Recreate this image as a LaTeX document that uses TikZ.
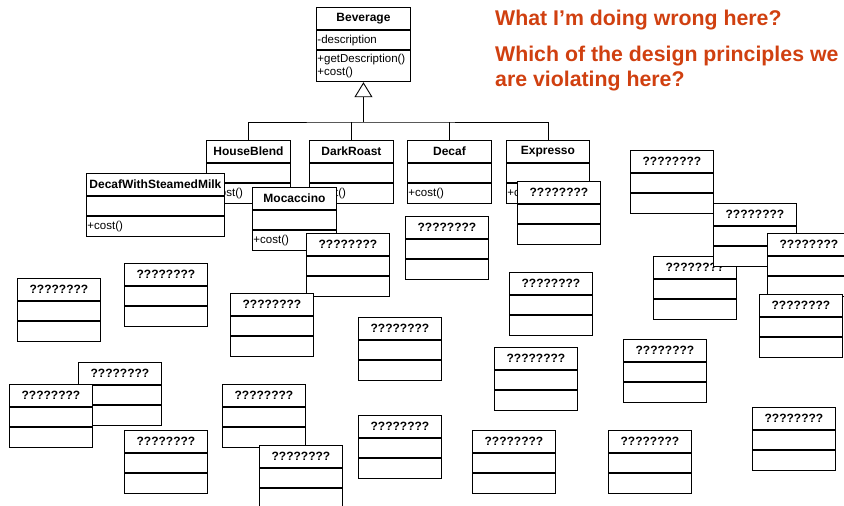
\documentclass[tikz,border=0pt]{standalone}
\usepackage{fontspec}
\setmainfont{Liberation Sans}
\usetikzlibrary{arrows.meta}
\definecolor{askred}{RGB}{208,64,16}

\tikzset{
  classtitle/.style={draw, fill=white, line width=0.9pt, inner sep=0pt, anchor=north west,
    minimum height=22pt, font=\fontsize{12}{14}\selectfont\bfseries},
  classpart/.style={draw, fill=white, line width=0.9pt, inner xsep=1pt, inner ysep=0pt,
    anchor=north west, minimum height=19.5pt, align=left, font=\fontsize{11.5}{13}\selectfont},
  question/.style={inner sep=0pt, anchor=base west, align=left, text=askred,
    font=\fontsize{21.3}{24.5}\selectfont\bfseries},
}

% #1 ops height, #2 name, #3 top left corner, #4 width, #5 title, #6 attributes, #7 operations
\newcommand{\umlclass}[7][19.5pt]{%
  \pgfmathsetmacro{\partwidth}{#4-2}%
  \node[classtitle, minimum width=#4pt] (#2) at (#3) {#5};
  \node[classpart, minimum width=#4pt, text width=\partwidth pt] (#2-a) at (#2.south west) {#6};
  \node[classpart, minimum width=#4pt, text width=\partwidth pt, minimum height=#1] (#2-o) at (#2-a.south west) {#7};
}

\begin{document}
\begin{tikzpicture}[x=1pt, y=-1pt]
    \useasboundingbox (0,0) rectangle (844,506);

    % the question (base is the last line)
    \node[question] (ask) at (495,25) {What I’m doing wrong here?};
    \node[question] (principles) at (495,86) {Which of the design principles we\\are violating here?};

    % base class and the four coffees
    \umlclass[31pt]{Beverage}{316,7}{94}{Beverage}{-description}{+getDescription()\\+cost()}
    \umlclass{HouseBlend}{206,140}{84}{HouseBlend}{}{+cost()}
    \umlclass{DarkRoast}{309,140}{84}{DarkRoast}{}{+cost()}
    \umlclass{Decaf}{407,140}{84}{Decaf}{}{+cost()}
    \umlclass{Expresso}{506,140}{83}{Expresso}{}{+cost()}

    \coordinate (join) at (Beverage-o.south |- 0,122);
    \draw[line width=0.9pt, -{Triangle[open, length=15pt, width=18pt]}] (join) -- (Beverage-o.south);
    \draw[line width=0.9pt] (HouseBlend.north) |- (join) -| (Expresso.north);
    \draw[line width=0.9pt] (DarkRoast.north) -- (DarkRoast.north |- join);
    \draw[line width=0.9pt] (Decaf.north) -- (Decaf.north |- join);

    % the combinations
    \umlclass{DecafMilk}{86,173}{138}{DecafWithSteamedMilk}{}{+cost()}
    \umlclass{Mocaccino}{252,187}{84}{Mocaccino}{}{+cost()}

    % and all the ones still to come
    \foreach \n/\pos in {1/{306,233}, 2/{405,216}, 3/{517,181}, 4/{630,150},
        5/{653,256}, 6/{713,203}, 7/{767,233}, 8/{759,294},
        9/{17,278}, 10/{124,263}, 11/{230,293}, 12/{358,317},
        13/{509,272}, 14/{494,347}, 15/{623,339}, 16/{78,362},
        17/{9,384}, 18/{222,384}, 19/{259,445}, 20/{124,430},
        21/{358,415}, 22/{472,430}, 23/{608,430}, 24/{752,407}}
      \umlclass{q\n}{\pos}{83}{????????}{}{};
\end{tikzpicture}
\end{document}
